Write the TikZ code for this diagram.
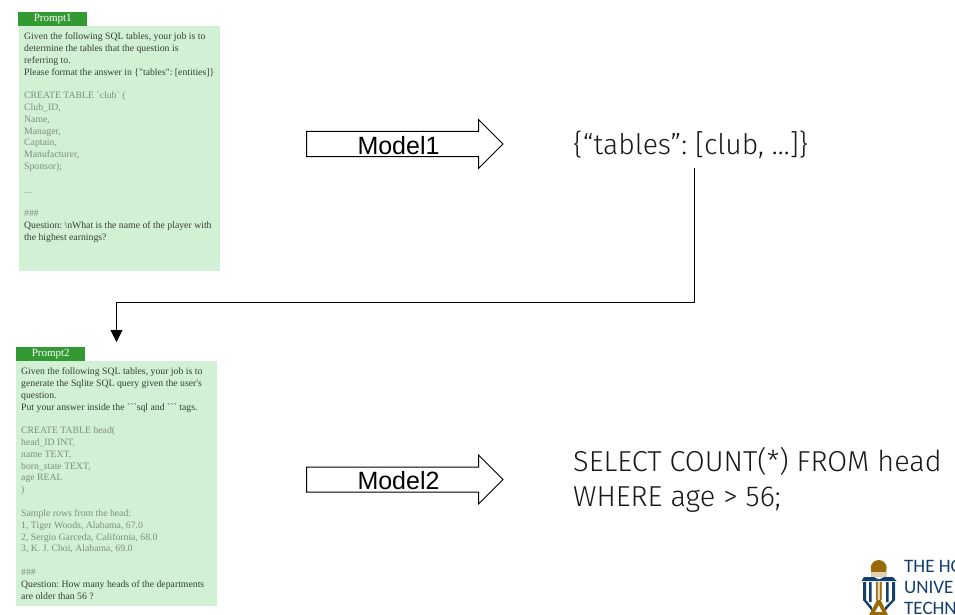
\documentclass[tikz,border=0pt]{standalone}
\usepackage{fontspec}
\usetikzlibrary{shapes.arrows,arrows.meta}
\newfontfamily\serf{Liberation Serif}
\newfontfamily\arialf{Liberation Sans}
\newfontfamily\carf{Carlito}
\newfontfamily\lightf{Fira Sans}[UprightFont=* Light]
\definecolor{boxgreen}{HTML}{D2F0D3}
\definecolor{headgreen}{HTML}{339933}
\definecolor{darktxt}{HTML}{364036}
\definecolor{greytxt}{HTML}{7F8E7F}
\definecolor{logoblue}{HTML}{123F6D}
\definecolor{logogold}{HTML}{9A6A08}
\newcommand{\gline}[1]{\textcolor{greytxt}{#1}}
\frenchspacing
\tikzset{
  x=1pt,y=-1pt,
  promptbox/.style={draw=none,fill=boxgreen,minimum width=201pt,minimum height=245pt,anchor=north west,inner sep=0pt},
  prompthead/.style={draw=none,fill=headgreen,text=white,minimum width=69pt,minimum height=13.5pt,anchor=north west,inner sep=0pt,font=\serf\fontsize{11}{12}\selectfont},
  prompttext/.style={anchor=north west,align=left,inner sep=0pt,text=darktxt,font=\serf\frenchspacing\fontsize{9.75}{11.82}\selectfont},
  modelarrow/.style={draw=black,line width=1pt,fill=white,shape=single arrow,single arrow head extend=12pt,minimum height=196.5pt,minimum width=48pt,inner sep=0pt,text height=22pt,text depth=2pt,font=\arialf\fontsize{25}{28}\selectfont,anchor=center},
  bigtext/.style={anchor=west,align=left,inner sep=0pt,text=black!90,font=\lightf\fontsize{28.4}{35}\selectfont},
  bigtextb/.style={bigtext,font=\lightf\fontsize{28.85}{35}\selectfont},
  flow/.style={draw=black,line width=0.8pt},
  logotext/.style={anchor=west,inner sep=0pt,text=logoblue,font=\carf\fontsize{19}{19}\selectfont},
}
\begin{document}
\begin{tikzpicture}
\useasboundingbox (0,0) rectangle (955,615);
\clip (0,0) rectangle (955,615);
% prompt 1
\node[promptbox] (box1) at (18.5,26) {};
\node[prompthead] (head1) at (18,12) {Prompt1};
\node[prompttext] (text1) at (24,32.5) {Given the following SQL tables, your job is to\\
determine the tables that the question is\\
referring to.\\
Please format the answer in \{"tables": [entities]\}\\
\mbox{}\\
\gline{CREATE TABLE `club` (}\\
\gline{Club\_ID,}\\
\gline{Name,}\\
\gline{Manager,}\\
\gline{Captain,}\\
\gline{Manufacturer,}\\
\gline{Sponsor);}\\
\mbox{}\\
\gline{...}\\
\mbox{}\\
\gline{\#\#\#}\\
Question: \textbackslash nWhat is the name of the player with\\
the highest earnings?};
% prompt 2
\node[promptbox] (box2) at (16,361) {};
\node[prompthead] (head2) at (16,347) {Prompt2};
\node[prompttext] (text2) at (21,367.5) {Given the following SQL tables, your job is to\\
generate the Sqlite SQL query given the user's\\
question.\\
Put your answer inside the ```sql and ``` tags.\\
\mbox{}\\
\gline{CREATE TABLE head(}\\
\gline{head\_ID INT,}\\
\gline{name TEXT,}\\
\gline{born\_state TEXT,}\\
\gline{age REAL}\\
\gline{)}\\
\mbox{}\\
\gline{Sample rows from the head:}\\
\gline{1, Tiger Woods, Alabama, 67.0}\\
\gline{2, Sergio Garceda, California, 68.0}\\
\gline{3, K. J. Choi, Alabama, 69.0}\\
\mbox{}\\
\gline{\#\#\#}\\
Question: How many heads of the departments\\
are older than 56 ?};
% block arrows
\node[modelarrow] (m1) at (398.5,144) {Model1};
\node[modelarrow] (m2) at (398.5,479.5) {Model2};
% outputs
\node[bigtext] (out1) at (573,144.5) {\{“tables”: [club, …]\}};
\node[bigtextb] (out2) at (573,479.5) {SELECT COUNT(*) FROM head\\WHERE age > 56;};
% connector
\coordinate (bendstart) at (694.5,168);
\coordinate (bendend) at (116.5,342);
\draw[flow,-{Triangle[length=12pt,width=12pt]}] (bendstart) -- (694.5,302.5) -- (116.5,302.5) -- (bendend);
% logo
\fill[logogold] (878.7,568) circle (8);
\fill[white!70!logogold] (870.9,572) rectangle (886.5,576.5);
\fill[logogold] (871,571) rectangle (886.4,572);
\fill[logoblue] (861.5,581) -- (864,577) -- (874,577) -- (879,579.5) -- (884,577) -- (893,577) -- (896.5,581) -- cycle;
\fill[logoblue] (863,582) rectangle (866,600) (869,582) rectangle (871.5,602) (886,582) rectangle (888.5,602) (892,582) rectangle (895,600);
\fill[logoblue] (863,600) -- (866,600) -- (872,607) -- (872,611) -- cycle;
\fill[logoblue] (895,600) -- (892,600) -- (885,607) -- (885,611) -- cycle;
\fill[white!70!logogold] (876,582) rectangle (881.5,600);
\fill[logogold] (876,582) rectangle (877.5,600) (880,582) rectangle (881.5,600);
\fill[logogold,even odd rule] (877,600) -- (880.5,600) -- (888,615) -- (869,615) -- cycle (878.7,605) -- (875,612) -- (882.5,612) -- cycle;
\node[logotext] (logo1) at (904,566.5) {THE HO};
\node[logotext] (logo2) at (904,587.5) {UNIVE};
\node[logotext] (logo3) at (904,608) {TECHN};
\end{tikzpicture}
\end{document}
